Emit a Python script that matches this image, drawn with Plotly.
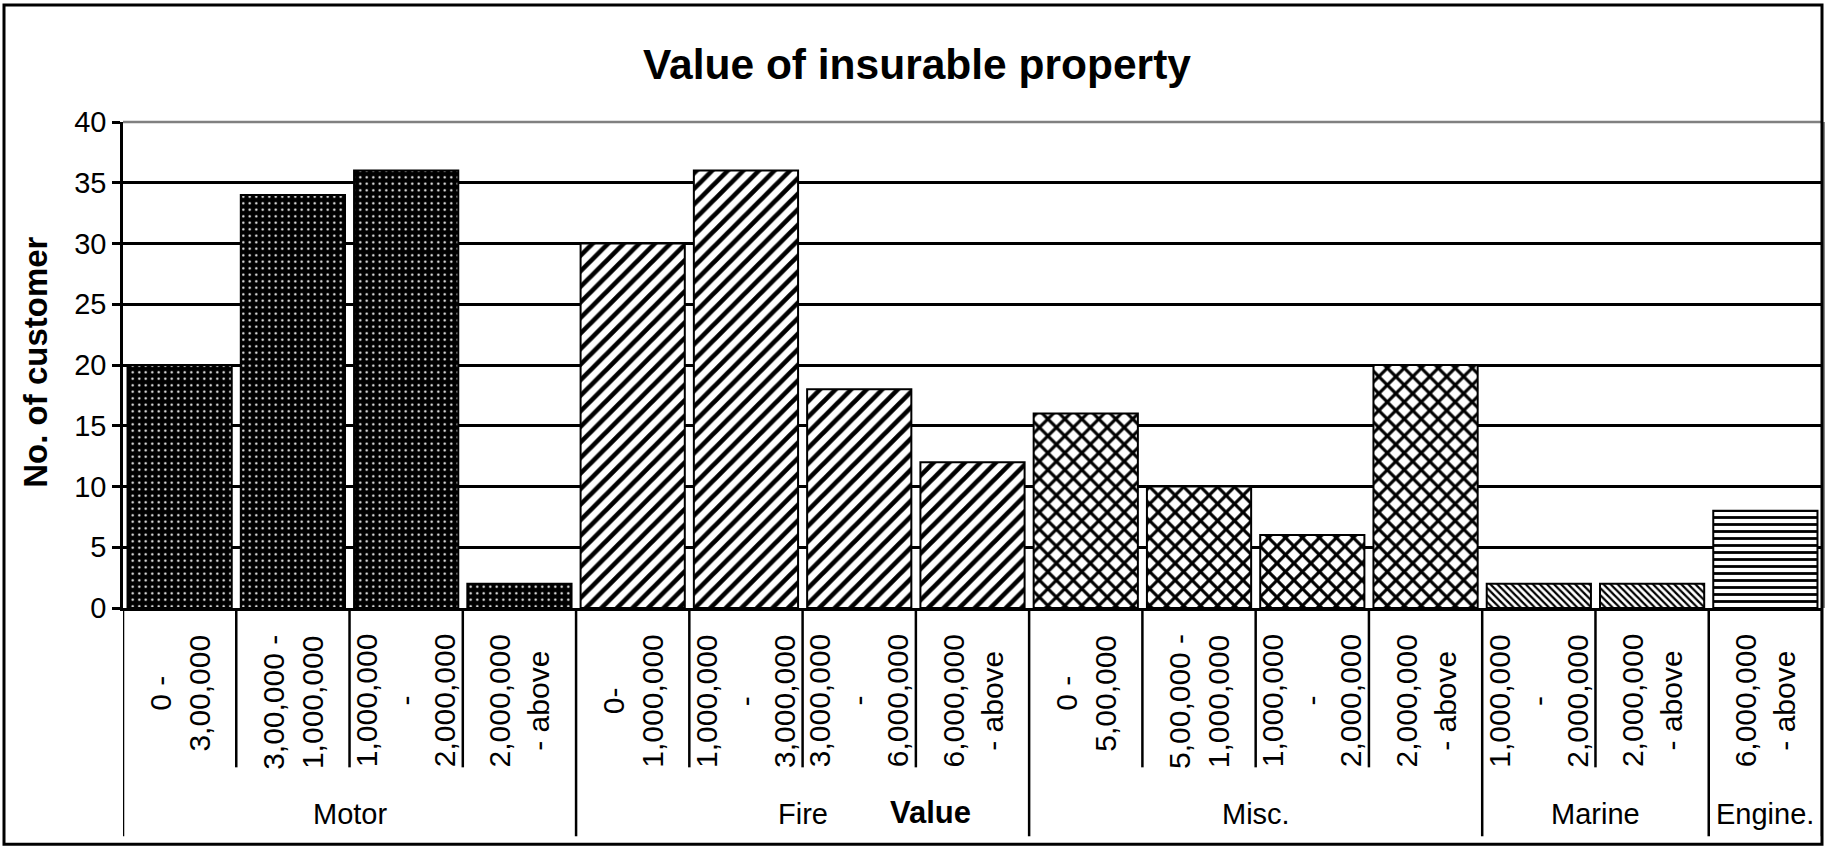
import plotly.graph_objects as go

# ---------------- data ----------------
groups = ["Motor", "Motor", "Motor", "Motor",
          "Fire", "Fire", "Fire", "Fire",
          "Misc.", "Misc.", "Misc.", "Misc.",
          "Marine", "Marine",
          "Engine."]
ranges = ["0 -<br>3,00,000", "3,00,000 -<br>1,000,000", "1,000,000<br>-<br>2,000,000", "2,000,000<br>- above",
          "0-<br>1,000,000", "1,000,000<br>-<br>3,000,000", "3,000,000<br>-<br>6,000,000", "6,000,000<br>- above",
          "0 -<br>5,00,000", "5,00,000 -<br>1,000,000", "1,000,000<br>-<br>2,000,000", "2,000,000<br>- above",
          "1,000,000<br>-<br>2,000,000", "2,000,000<br>- above",
          "6,000,000<br>- above"]
customers = [20, 34, 36, 2,
             30, 36, 18, 12,
             16, 10, 6, 20,
             2, 2,
             8]
y_ticks = [0, 5, 10, 15, 20, 25, 30, 35, 40]

title_text = "Value of insurable property"
y_title = "No. of customer"
x_title = "Value"

# ---------------- styles ----------------
FONT = "Liberation Sans, Arial, sans-serif"
patterns = {
    "Motor":   dict(shape=".", fgcolor="white", bgcolor="black", size=6.5, solidity=0.1),
    "Fire":    dict(shape="/", fgcolor="black", bgcolor="white", size=11, solidity=0.42),
    "Misc.":   dict(shape="x", fgcolor="black", bgcolor="white", size=12, solidity=0.45),
    "Marine":  dict(shape="\\", fgcolor="black", bgcolor="white", size=5, solidity=0.45),
    "Engine.": dict(shape="-", fgcolor="black", bgcolor="white", size=7, solidity=0.4),
}

W, H = 1839, 850
L, R, T, B = 123, 17, 122, 241.5
pw = W - L - R
ph = H - T - B


def px_to_paper_x(px):
    return (px - L) / pw


def px_to_paper_y(py):
    return (H - B - py) / ph


xkeys = [f"{g} | {r}" for g, r in zip(groups, ranges)]

fig = go.Figure()
order = []
for g in groups:
    if g not in order:
        order.append(g)
for g in order:
    idx = [i for i, gg in enumerate(groups) if gg == g]
    p = patterns[g]
    fig.add_trace(go.Bar(
        x=[xkeys[i] for i in idx],
        y=[customers[i] for i in idx],
        name=g,
        marker=dict(color=p["bgcolor"], line=dict(color="black", width=2),
                    pattern=dict(shape=p["shape"], fgcolor=p["fgcolor"], bgcolor=p["bgcolor"],
                                 size=p["size"], solidity=p["solidity"], fillmode="replace")),
        showlegend=False,
    ))

shapes = []
n = len(groups)
y_inner = px_to_paper_y(768)
y_group = px_to_paper_y(837)
for i in range(n + 1):
    pos = i - 0.5
    is_group = (i == 0 or i == n or groups[i] != groups[i - 1])
    shapes.append(dict(type="line", xref="x", yref="paper", x0=pos, x1=pos, y0=0,
                       y1=y_group if is_group else y_inner,
                       line=dict(color="black", width=2.5), layer="above"))

# grey plot-area border (top + right)
shapes.append(dict(type="line", xref="paper", yref="paper", x0=0, x1=1, y0=1, y1=1,
                   line=dict(color="#808080", width=2.5)))
shapes.append(dict(type="line", xref="paper", yref="paper", x0=1.001, x1=1.001, y0=0, y1=1,
                   line=dict(color="#808080", width=2.5)))
# chart border
shapes.append(dict(type="rect", xref="paper", yref="paper",
                   x0=px_to_paper_x(4), x1=px_to_paper_x(1822),
                   y0=px_to_paper_y(845), y1=px_to_paper_y(5),
                   line=dict(color="black", width=3), fillcolor="rgba(0,0,0,0)"))

annotations = []
y_lab = px_to_paper_y(633)
for k, r in zip(xkeys, ranges):
    annotations.append(dict(x=k, xref="x", y=y_lab, yref="paper", text=r, textangle=-90,
                            showarrow=False, xanchor="center", yanchor="top", align="center",
                            font=dict(family=FONT, size=30, color="black")))

y_grp = px_to_paper_y(815)
for g in order:
    idx = [i for i, gg in enumerate(groups) if gg == g]
    annotations.append(dict(x=(idx[0] + idx[-1]) / 2, xref="x", y=y_grp, yref="paper", text=g,
                            showarrow=False, xanchor="center", yanchor="middle",
                            font=dict(family=FONT, size=29, color="black")))

annotations.append(dict(x=px_to_paper_x(930), xref="paper", y=px_to_paper_y(813), yref="paper",
                        text=f"<b>{x_title}</b>", showarrow=False, xanchor="center", yanchor="middle",
                        font=dict(family=FONT, size=31, color="black")))
annotations.append(dict(x=px_to_paper_x(36), xref="paper", y=px_to_paper_y(363), yref="paper",
                        text=f"<b>{y_title}</b>", textangle=-90, showarrow=False,
                        xanchor="center", yanchor="middle",
                        font=dict(family=FONT, size=33, color="black")))

fig.update_layout(
    width=W, height=H,
    margin=dict(l=L, r=R, t=T, b=B, pad=0),
    paper_bgcolor="white", plot_bgcolor="white",
    barmode="overlay", bargap=0.08,
    title=dict(text=f"<b>{title_text}</b>", x=px_to_paper_x(917), xref="paper", xanchor="center",
               y=1 - 64 / H, yref="container", yanchor="middle",
               font=dict(family=FONT, size=42.5, color="black")),
    font=dict(family=FONT, color="black"),
    shapes=shapes,
    annotations=annotations,
)
fig.update_xaxes(type="category", categoryorder="array", categoryarray=xkeys,
                 range=[-0.5, n - 0.5], showticklabels=False, ticks="",
                 showgrid=False, showline=True, linecolor="black", linewidth=2.5, zeroline=False)
fig.update_yaxes(range=[0, 40], tickvals=y_ticks, showgrid=True, gridcolor="black", gridwidth=2.5,
                 showline=True, linecolor="black", linewidth=2.5, zeroline=False,
                 ticks="outside", ticklen=8, tickwidth=2.5, tickcolor="black",
                 tickfont=dict(family=FONT, size=29, color="black"))

fig.write_html("out.html", config={"displayModeBar": False},
               post_script="document.body.style.margin='0';document.body.style.overflow='hidden';")
